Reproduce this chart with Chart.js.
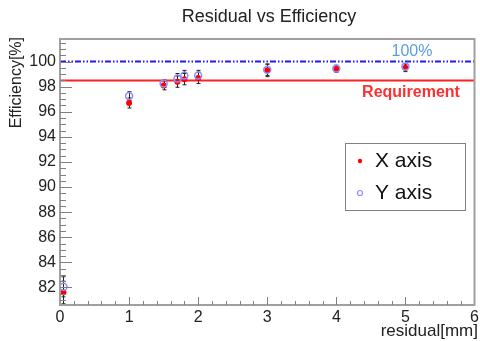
<!DOCTYPE html>
<html>
<head>
<meta charset="UTF-8">
<script src="https://cdn.jsdelivr.net/npm/chart.js@4"></script>
<style>
  html, body { margin: 0; padding: 0; background: #fff; }
  #wrap { width: 480px; height: 341px; }
</style>
</head>
<body>
<div id="wrap"><canvas id="chart" width="480" height="341"></canvas></div>
<script>
'use strict';

// Datos
const residual   = [0.05, 1, 1.5, 1.7, 1.8, 2, 3, 4, 5];
const effX       = [81.6, 96.7, 98.1, 98.4, 98.6, 98.7, 99.3, 99.4, 99.5];
const errX       = [0.9, 0.4, 0.35, 0.45, 0.45, 0.45, 0.5, 0.25, 0.3];
const effY       = [82.05, 97.25, 98.25, 98.65, 98.9, 98.9, 99.35, 99.45, 99.6];
const errY       = [0.8, 0.35, 0.3, 0.4, 0.4, 0.4, 0.45, 0.25, 0.25];
const lineX      = [0, 6];
const requirement = 98.5;
const full        = 100;
const legendNames = ['X axis', 'Y axis'];

const FONT = "'Liberation Sans', Arial, Helvetica, sans-serif";

function pts(xs, ys) { return xs.map((x, i) => ({ x, y: ys[i] })); }

// Barras de error + marco + ticks menores + textos
const rootStyle = {
  id: 'rootStyle',
  beforeDraw(chart) {
    const c = chart.ctx;
    c.save();
    c.fillStyle = '#fff';
    c.fillRect(0, 0, chart.width, chart.height);
    c.restore();
  },
  beforeDatasetsDraw(chart) {
    const c = chart.ctx, xs = chart.scales.x, ys = chart.scales.y;
    c.save();
    c.strokeStyle = '#222';
    c.lineWidth = 1;
    [[effX, errX], [effY, errY]].forEach(([vals, errs]) => {
      residual.forEach((r, i) => {
        const px = Math.round(xs.getPixelForValue(r)) + 0.5;
        const top = ys.getPixelForValue(vals[i] + errs[i]);
        const bot = ys.getPixelForValue(vals[i] - errs[i]);
        c.beginPath();
        c.moveTo(px, top); c.lineTo(px, bot);
        c.moveTo(px - 2, top); c.lineTo(px + 2, top);
        c.moveTo(px - 2, bot); c.lineTo(px + 2, bot);
        c.stroke();
      });
    });
    c.restore();
  },
  afterDraw(chart) {
    const c = chart.ctx, a = chart.chartArea;
    const xs = chart.scales.x, ys = chart.scales.y;
    c.save();

    // marco
    c.strokeStyle = '#a0a0a0';
    c.lineWidth = 2;
    c.strokeRect(a.left, a.top, a.right - a.left, a.bottom - a.top);

    // ticks hacia dentro
    c.lineWidth = 1;
    c.strokeStyle = '#808080';
    c.beginPath();
    for (let v = 81; v <= 101.5; v += 0.5) {
      const py = Math.round(ys.getPixelForValue(v)) + 0.5;
      const len = (v % 2 === 0) ? 12 : 6;
      c.moveTo(a.left, py); c.lineTo(a.left + len, py);
    }
    for (let k = 1; k < 30; k++) {
      const v = k * 0.2;
      const px = Math.round(xs.getPixelForValue(v)) + 0.5;
      const len = (k % 5 === 0) ? 8 : 4;
      c.moveTo(px, a.bottom); c.lineTo(px, a.bottom - len);
    }
    c.stroke();

    // título
    c.fillStyle = '#222';
    c.font = `18px ${FONT}`;
    c.textAlign = 'center';
    c.textBaseline = 'middle';
    c.fillText('Residual vs Efficiency', 269, 17);

    // títulos de ejes
    c.font = `17px ${FONT}`;
    c.textAlign = 'right';
    c.fillText('residual[mm]', 478, 331);
    c.save();
    c.translate(17, 37);
    c.rotate(-Math.PI / 2);
    c.font = `16px ${FONT}`;
    c.textAlign = 'right';
    c.fillText('Efficiency[%]', 0, 0);
    c.restore();

    // etiquetas de las líneas
    c.textAlign = 'center';
    c.font = `16px ${FONT}`;
    c.fillStyle = '#5a9fd8';
    c.fillText('100%', 412, 52);
    c.font = `bold 16px ${FONT}`;
    c.fillStyle = '#ff3030';
    c.fillText('Requirement', 411, 93);

    // leyenda
    c.fillStyle = '#fff';
    c.fillRect(345, 143, 120, 67);
    c.strokeStyle = '#808080';
    c.lineWidth = 1;
    c.strokeRect(345.5, 143.5, 120, 67);
    c.fillStyle = '#ff0000';
    c.beginPath(); c.arc(360, 161, 2.2, 0, Math.PI * 2); c.fill();
    c.strokeStyle = '#9090ff';
    c.lineWidth = 1.2;
    c.beginPath(); c.arc(360, 193, 2.5, 0, Math.PI * 2); c.stroke();
    c.fillStyle = '#111';
    c.font = `21px ${FONT}`;
    c.textAlign = 'left';
    c.fillText(legendNames[0], 375, 161);
    c.fillText(legendNames[1], 375, 193);

    c.restore();
  }
};

new Chart(document.getElementById('chart'), {
  type: 'scatter',
  data: {
    datasets: [
      {
        label: legendNames[1],
        data: pts(residual, effY),
        pointStyle: 'circle',
        pointRadius: 3.5,
        pointBorderWidth: 1.5,
        pointBorderColor: '#8c8cff',
        pointBackgroundColor: 'rgba(0,0,0,0)',
        order: 0
      },
      {
        label: legendNames[0],
        data: pts(residual, effX),
        pointStyle: 'circle',
        pointRadius: 3,
        pointBorderWidth: 0,
        pointBackgroundColor: '#ff0000',
        order: 1
      },
      {
        type: 'line',
        label: 'Requirement',
        data: pts(lineX, [requirement, requirement]),
        borderColor: '#ff2020',
        borderWidth: 2,
        pointRadius: 0,
        order: 2
      },
      {
        type: 'line',
        label: '100%',
        data: pts(lineX, [full, full]),
        borderColor: '#1a1aff',
        borderWidth: 2,
        borderDash: [6, 2, 1.5, 2, 1.5, 2],
        pointRadius: 0,
        order: 3
      }
    ]
  },
  options: {
    responsive: false,
    animation: false,
    events: [],
    layout: { padding: { left: 0, right: 0, top: 39, bottom: 0 } },
    plugins: {
      legend: { display: false },
      tooltip: { enabled: false },
      title: { display: false }
    },
    scales: {
      x: {
        type: 'linear',
        min: 0,
        max: 6,
        grid: { display: false, drawTicks: false },
        border: { display: false },
        ticks: { stepSize: 1, padding: 3, color: '#222', font: { family: FONT, size: 16 }, maxRotation: 0 },
        afterFit: s => { s.height = 36; s.paddingRight = 5; }
      },
      y: {
        type: 'linear',
        min: 80.6,
        max: 101.8,
        grid: { display: false, drawTicks: false },
        border: { display: false },
        ticks: { stepSize: 2, includeBounds: false, padding: 4, color: '#222', font: { family: FONT, size: 16 } },
        afterFit: s => { s.width = 60; }
      }
    }
  },
  plugins: [rootStyle]
});
</script>
</body>
</html>
